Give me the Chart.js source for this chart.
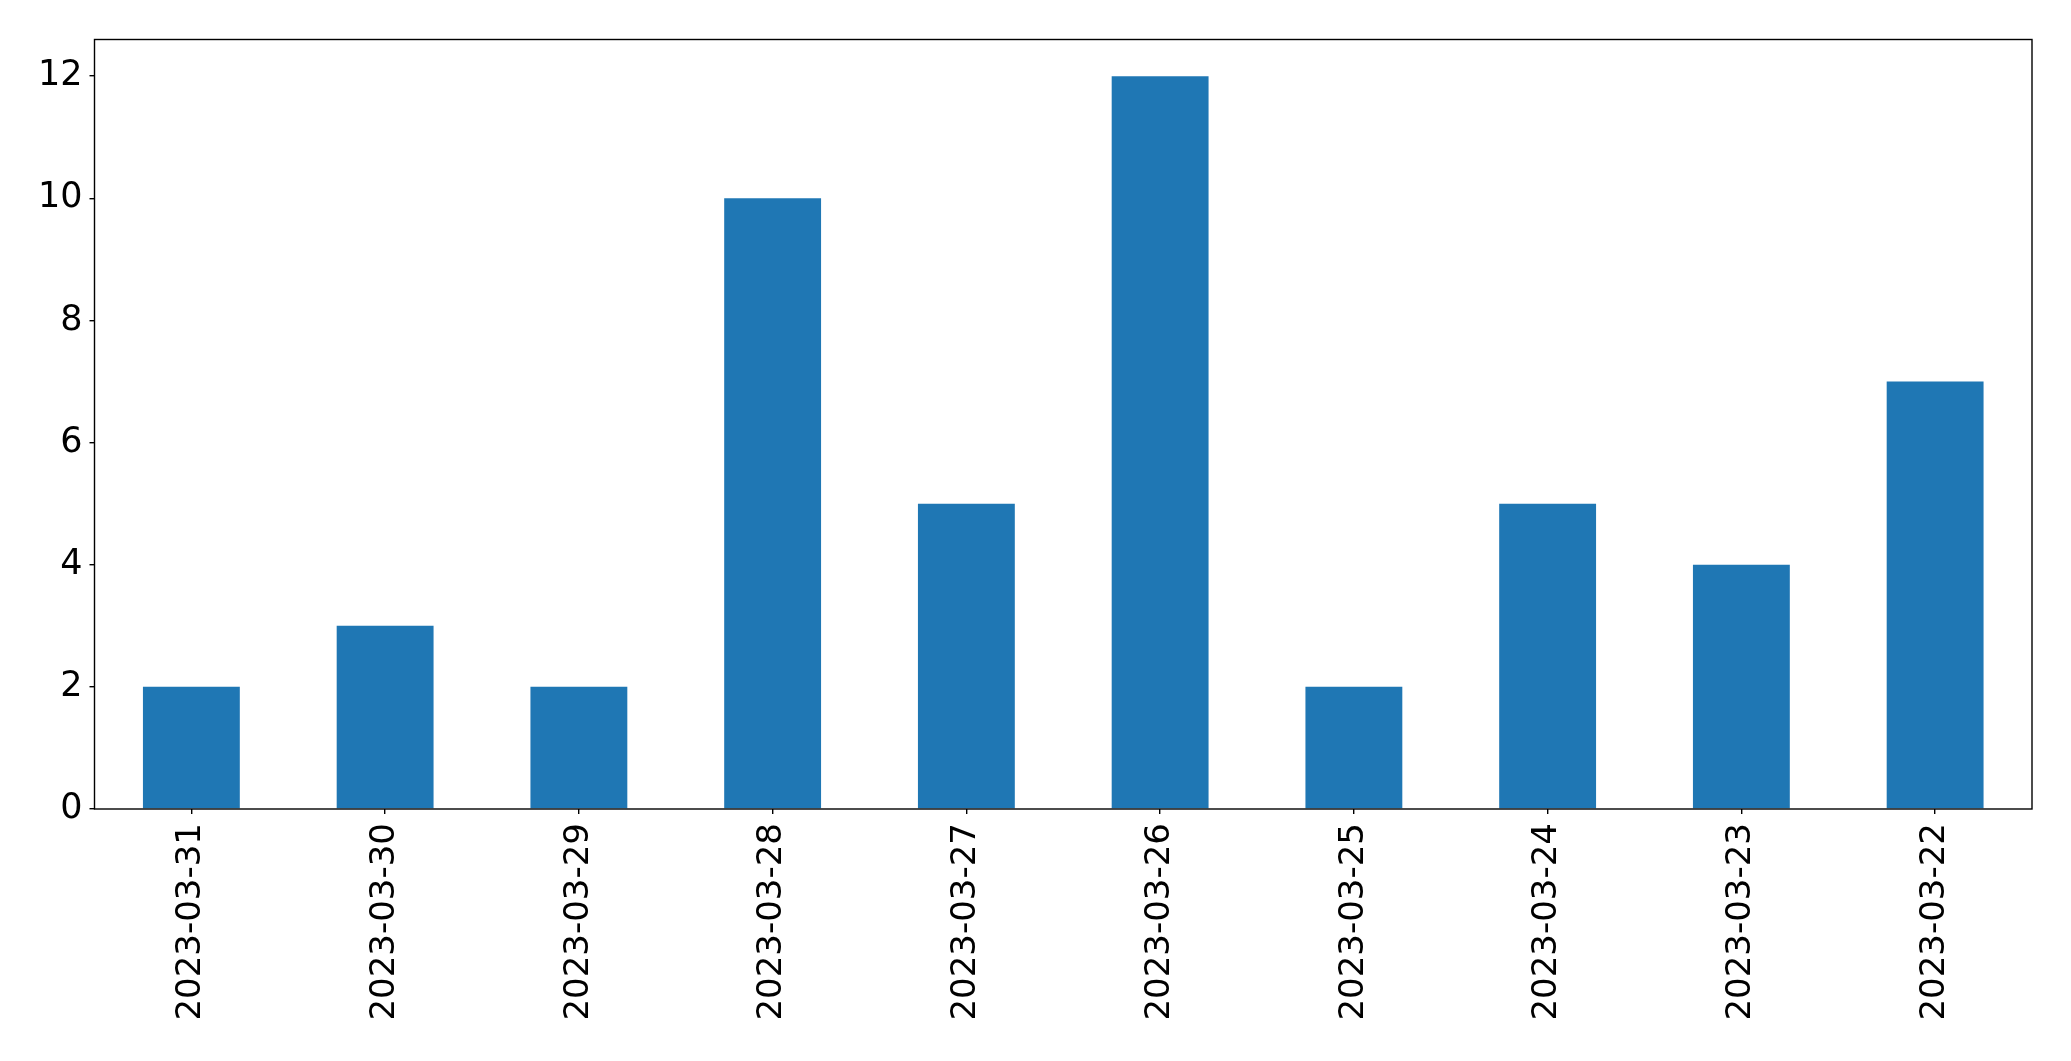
<!DOCTYPE html>
<html>
<head>
<meta charset="utf-8">
<script src="https://cdn.jsdelivr.net/npm/chart.js@4/dist/chart.umd.min.js"></script>
<style>
  html, body { margin: 0; padding: 0; background: #fff; }
  #wrap { width: 2071px; height: 1061px; }
</style>
</head>
<body>
<div id="wrap"><canvas id="chart" width="2071" height="1061"></canvas></div>
<script>
labels = ['2023-03-31', '2023-03-30', '2023-03-29', '2023-03-28', '2023-03-27', '2023-03-26', '2023-03-25', '2023-03-24', '2023-03-23', '2023-03-22']
counts = [2, 3, 2, 10, 5, 12, 2, 5, 4, 7]
yTicks = [0, 2, 4, 6, 8, 10, 12]

// box round the plot, like matplotlib's spines
frame = {
    id: 'frame',
    afterDraw(chart) {
        const a = chart.chartArea, c = chart.ctx;
        c.save();
        c.strokeStyle = '#000';
        c.lineWidth = 1.4;
        c.strokeRect(a.left, a.top, a.right - a.left, a.bottom - a.top);
        c.restore();
    }
};

config = {
    type: 'bar',
    data: {
        labels,
        datasets: [{
            data: counts,
            backgroundColor: '#1f77b4',
            barPercentage: 0.5,
            categoryPercentage: 1.0,
        }]
    },
    options: {
        responsive: false,
        animation: false,
        layout: { padding: { top: 39.5, right: 39, left: 0, bottom: 0 } },
        plugins: { legend: { display: false }, tooltip: { enabled: false } },
        scales: {
            x: {
                grid: { display: true, offset: false, drawOnChartArea: false, drawTicks: true, tickLength: 5, color: '#000', lineWidth: 1.4 },
                border: { display: false },
                ticks: { minRotation: 90, maxRotation: 90, autoSkip: false, padding: 9, color: '#000',
                         font: { family: 'DejaVu Sans', size: 34 } },
                afterFit(s) { s.height = 1061 - 809; }
            },
            y: {
                min: 0,
                max: 12.6,
                afterBuildTicks(s) { s.ticks = yTicks.map(v => ({ value: v })); },
                grid: { display: true, drawOnChartArea: false, drawTicks: true, tickLength: 5, color: '#000', lineWidth: 1.4 },
                border: { display: false },
                ticks: { padding: 7, color: '#000', font: { family: 'DejaVu Sans', size: 35 } },
                afterFit(s) { s.width = 94.5; }
            }
        }
    },
    plugins: [frame]
};

ctx = document.getElementById('chart');
new Chart(ctx, config);
</script>
</body>
</html>
